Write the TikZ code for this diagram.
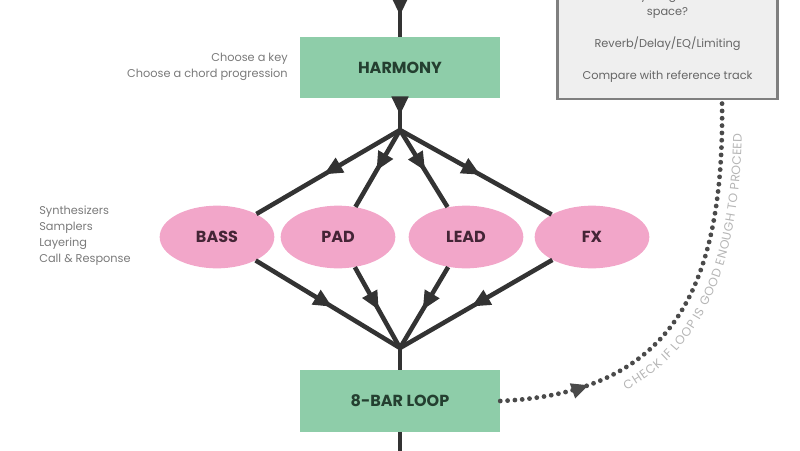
\documentclass[tikz,border=0pt]{standalone}
\usepackage{fontspec}
\setmainfont{Poppins}
\usetikzlibrary{arrows.meta,decorations.markings,decorations.text,shapes.geometric}
\definecolor{boxgreen}{HTML}{8ECDA9}
\definecolor{ellpink}{HTML}{F2A6C9}
\definecolor{greentext}{HTML}{243F30}
\definecolor{pinktext}{HTML}{442536}
\definecolor{linecol}{HTML}{333333}
\definecolor{labelgray}{HTML}{7A7A7A}
\definecolor{boxtext}{HTML}{666666}
\definecolor{boxgray}{HTML}{EFEFEF}
\definecolor{bordergray}{HTML}{7F7F7F}
\definecolor{dotcol}{HTML}{4A4A4A}
\definecolor{pathtext}{HTML}{B5B5B5}
\begin{document}
\begin{tikzpicture}[x=0.75pt,y=-0.75pt,
  stagebox/.style={rectangle, fill=boxgreen, minimum width=150pt, minimum height=46pt,
    font=\fontsize{12}{14}\selectfont\bfseries, text=greentext, inner sep=0pt},
  layer/.style={ellipse, fill=ellpink, minimum width=86pt, minimum height=47pt,
    font=\fontsize{12}{14}\selectfont\bfseries, text=pinktext, inner sep=0pt},
  flow/.style={color=linecol, line width=3.4pt},
  midarrow/.style={flow, postaction={decorate},
    decoration={markings, mark=at position 0.53 with {\arrow{Triangle[length=14pt,width=12pt]}}}},
  note/.style={font=\fontsize{8.5}{12}\selectfont, text=labelgray, inner sep=0pt},
  boxnote/.style={note, text=boxtext, align=center},
  checkpath/.style={color=dotcol, line width=3.6pt, line cap=round, dash pattern=on 0pt off 5.5pt,
    postaction={decorate},
    decoration={markings, mark=at position 0.21 with {\arrow{Triangle[length=13pt,width=11pt]}}}}
]
\useasboundingbox (0,0) rectangle (800,450);

% main stages
\node[stagebox] (harmony) at (400,67.5) {HARMONY};
\node[stagebox] (loop) at (400,401) {8-BAR LOOP};
\node[layer] (bass) at (217,237) {BASS};
\node[layer] (pad) at (338,237) {PAD};
\node[layer] (lead) at (466,237) {LEAD};
\node[layer] (fx) at (592,237) {FX};

\coordinate (top) at (400,-8);
\coordinate (split) at (400,130);
\coordinate (merge) at (400,348);
\coordinate (bottom) at (400,458);

% connectors
\draw[midarrow] (top) -- (harmony.north);
\draw[midarrow] (harmony.south) -- (split);
\foreach \n in {bass,pad,lead,fx} \draw[midarrow] (split) -- (\n);
\foreach \n in {bass,pad,lead,fx} \draw[midarrow] (\n) -- (merge);
\draw[flow] (merge) -- (loop.north);
\draw[flow] (loop.south) -- (bottom);

% side notes
\node[note, align=right, anchor=east] (keynote) at (288,67) {Choose a key\\Choose a chord progression};
\node[note, align=left, anchor=west] (soundnote) at (39,236) {Synthesizers\\Samplers\\Layering\\Call \& Response};

% check box
\node[draw=bordergray, line width=2pt, fill=boxgray, minimum width=165pt, minimum height=90pt, inner sep=0pt] (check) at (667.5,39) {};
\node[boxnote] (q1) at (667.5,5) {Does everything have its own\\space?};
\node[boxnote] (q2) at (667.5,44) {Reverb/Delay/EQ/Limiting};
\node[boxnote] (q3) at (667.5,77) {Compare with reference track};
\coordinate (checkout) at (722,99);

% dotted check connector
\draw[checkpath] (loop.east) .. controls (675,393) and (725,285) .. (checkout);
\path[decorate, decoration={text along path,
   text={|\fontsize{9.2}{10}\selectfont|CHECK IF LOOP IS GOOD ENOUGH TO PROCEED},
   text color=pathtext, text align={right, right indent=26pt}, raise=-15pt}]
   (loop.east) .. controls (675,393) and (725,285) .. (checkout);
\end{tikzpicture}
\end{document}
